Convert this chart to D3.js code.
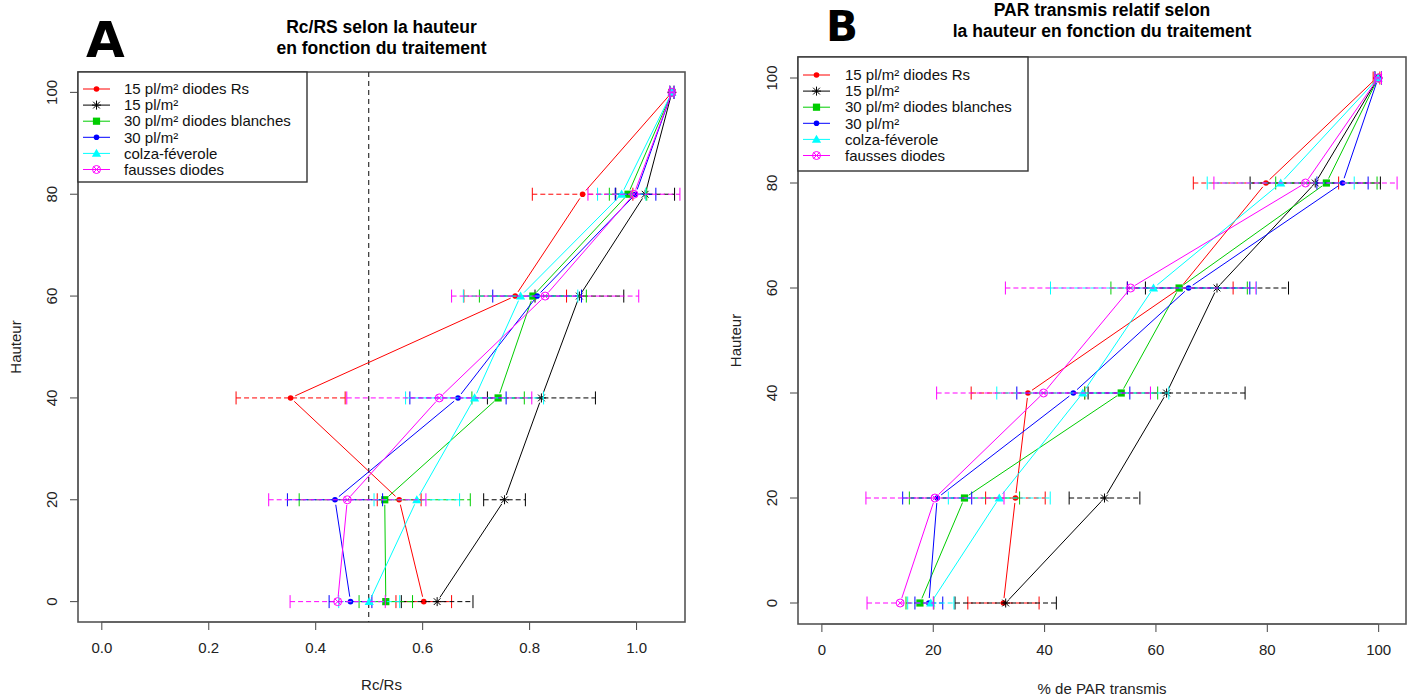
<!DOCTYPE html>
<html><head><meta charset="utf-8">
<script src="https://cdn.jsdelivr.net/npm/d3@7"></script>
<style>
body{margin:0;background:#fff;}
svg{display:block;font-family:"Liberation Sans",Arial,sans-serif;}
</style></head>
<body><svg id="c" width="1416" height="700"></svg>
<script>
// ---------- data ----------
const heights = [0, 20, 40, 60, 80, 100];
const seriesNames = ["15 pl/m² diodes Rs", "15 pl/m²", "30 pl/m² diodes blanches", "30 pl/m²", "colza-féverole", "fausses diodes"];
const seriesColors = ["#FF0000", "#000000", "#00CD00", "#0000FF", "#00FFFF", "#FF00FF"];
const seriesShapes = ["dot", "star", "square", "dot", "triangle", "circlex"];

// Panel A : Rc/Rs
const rcrsRed       = [0.603, 0.557, 0.354, 0.774, 0.900, 1.067];
const rcrsRedErr    = [0.052, 0.041, 0.102, 0.096, 0.094, 0.004];
const rcrsBlack     = [0.628, 0.754, 0.823, 0.894, 1.017, 1.067];
const rcrsBlackErr  = [0.067, 0.039, 0.101, 0.083, 0.055, 0.004];
const rcrsGreen     = [0.532, 0.530, 0.742, 0.807, 0.985, 1.067];
const rcrsGreenErr  = [0.050, 0.160, 0.049, 0.100, 0.035, 0.004];
const rcrsBlue      = [0.466, 0.437, 0.667, 0.815, 0.999, 1.067];
const rcrsBlueErr   = [0.040, 0.089, 0.090, 0.083, 0.038, 0.004];
const rcrsCyan      = [0.501, 0.590, 0.698, 0.784, 0.973, 1.067];
const rcrsCyanErr   = [0.057, 0.080, 0.129, 0.107, 0.045, 0.004];
const rcrsMagenta   = [0.442, 0.460, 0.632, 0.830, 0.996, 1.067];
const rcrsMagentaErr= [0.089, 0.147, 0.173, 0.175, 0.086, 0.004];

// Panel B : % PAR transmis
const parRed        = [32.7, 34.85, 37.1, 64.45, 79.85, 99.7];
const parRedErr     = [6.4, 5.35, 10.2, 9.5, 13.05, 0.6];
const parBlack      = [33.1, 50.85, 62.0, 71.05, 88.7, 100];
const parBlackErr   = [9.1, 6.35, 14.1, 12.85, 11.7, 0.6];
const parGreen      = [17.7, 25.7, 53.85, 64.25, 90.7, 100];
const parGreenErr   = [2.5, 9.9, 6.55, 12.25, 9.1, 0.6];
const parBlue       = [19.3, 20.8, 45.25, 65.95, 93.6, 100];
const parBlueErr    = [2.5, 6.2, 10.15, 11.0, 4.6, 0.6];
const parCyan       = [19.65, 31.95, 46.95, 59.65, 82.5, 100];
const parCyanErr    = [4.15, 9.15, 15.45, 18.5, 13.2, 0.6];
const parMagenta    = [14.15, 20.4, 39.9, 55.55, 86.95, 100];
const parMagentaErr = [5.95, 12.4, 19.2, 22.5, 16.45, 0.6];

const xTicksA = [0, 0.2, 0.4, 0.6, 0.8, 1.0];
const xTicksB = [0, 20, 40, 60, 80, 100];
const yTicks = [0, 20, 40, 60, 80, 100];

const svg = d3.select("#c");

function marker(g, shape, x, y, color) {
  if (shape === "dot") {
    g.append("circle").attr("cx", x).attr("cy", y).attr("r", 2.8).attr("fill", color);
  } else if (shape === "square") {
    g.append("rect").attr("x", x - 3.6).attr("y", y - 3.6).attr("width", 7.2).attr("height", 7.2).attr("fill", color);
  } else if (shape === "triangle") {
    const s = 4.6;
    g.append("path").attr("d", `M${x},${y - s}L${x + s},${y + s * 0.75}L${x - s},${y + s * 0.75}Z`).attr("fill", color);
  } else if (shape === "star") {
    const s = 4.5;
    g.append("path").attr("d", `M${x - s},${y}H${x + s}M${x},${y - s}V${y + s}M${x - s * 0.75},${y - s * 0.75}L${x + s * 0.75},${y + s * 0.75}M${x - s * 0.75},${y + s * 0.75}L${x + s * 0.75},${y - s * 0.75}`)
      .attr("stroke", color).attr("stroke-width", 1).attr("fill", "none");
  } else if (shape === "circlex") {
    const r = 4;
    g.append("circle").attr("cx", x).attr("cy", y).attr("r", r).attr("fill", "none").attr("stroke", color).attr("stroke-width", 1);
    const d = r * 0.72;
    g.append("path").attr("d", `M${x - d},${y - d}L${x + d},${y + d}M${x - d},${y + d}L${x + d},${y - d}`).attr("stroke", color).attr("stroke-width", 1);
  }
}

function panel(cfg) {
  const x = d3.scaleLinear().domain(cfg.xDomain).range([cfg.left, cfg.right]);
  const y = d3.scaleLinear().domain([-4, 104]).range([cfg.bottom, cfg.top]);
  const g = svg.append("g");

  // x axis
  const xa = g.append("g").attr("transform", `translate(0,${cfg.bottom})`)
    .call(d3.axisBottom(x).tickValues(cfg.xTicks).tickSize(8).tickPadding(12).tickFormat(cfg.xFmt));
  xa.select(".domain").attr("d", `M${x(cfg.xTicks[0])},0H${x(cfg.xTicks[cfg.xTicks.length - 1])}`).attr("stroke", "#444");
  xa.selectAll("line").attr("stroke", "#444");
  xa.selectAll("text").attr("font-size", 15).attr("fill", "#222").attr("font-family", "Liberation Sans, Arial, sans-serif");

  // y axis
  const ya = g.append("g").attr("transform", `translate(${cfg.left},0)`)
    .call(d3.axisLeft(y).tickValues(yTicks).tickSize(8).tickFormat(d3.format("d")));
  ya.select(".domain").attr("d", `M0,${y(0)}V${y(100)}`).attr("stroke", "#444");
  ya.selectAll("line").attr("stroke", "#444");
  ya.selectAll("text").attr("font-size", 15).attr("fill", "#222").attr("font-family", "Liberation Sans, Arial, sans-serif")
    .attr("text-anchor", "middle").attr("x", 0).attr("dy", 0)
    .attr("transform", d => `translate(-21,${y(d)}) rotate(-90)`).attr("y", 0);
  ya.selectAll(".tick").attr("transform", null);
  ya.selectAll(".tick line").attr("x2", -8).attr("y1", d => y(d)).attr("y2", d => y(d));

  // box
  g.append("rect").attr("x", cfg.left).attr("y", cfg.top).attr("width", cfg.right - cfg.left).attr("height", cfg.bottom - cfg.top)
    .attr("fill", "none").attr("stroke", "#555").attr("stroke-width", 1.6);

  if (cfg.vline !== undefined) {
    g.append("line").attr("x1", x(cfg.vline)).attr("x2", x(cfg.vline)).attr("y1", cfg.top).attr("y2", cfg.bottom)
      .attr("stroke", "#333").attr("stroke-width", 1.2).attr("stroke-dasharray", "5,4");
  }

  // series
  cfg.series.forEach((s, i) => {
    const col = seriesColors[i];
    const pts = heights.map((h, k) => [x(s.m[k]), y(h)]);
    // lines with gaps (type "b")
    const gap = 5;
    for (let k = 0; k < pts.length - 1; k++) {
      const [x1, y1] = pts[k], [x2, y2] = pts[k + 1];
      const L = Math.hypot(x2 - x1, y2 - y1);
      if (L <= 2 * gap) continue;
      const ux = (x2 - x1) / L, uy = (y2 - y1) / L;
      g.append("line").attr("x1", x1 + ux * gap).attr("y1", y1 + uy * gap).attr("x2", x2 - ux * gap).attr("y2", y2 - uy * gap)
        .attr("stroke", col).attr("stroke-width", 1);
    }
    // error bars
    heights.forEach((h, k) => {
      const xl = x(s.m[k] - s.e[k]), xr = x(s.m[k] + s.e[k]), yy = y(h);
      g.append("line").attr("x1", xl).attr("x2", xr).attr("y1", yy).attr("y2", yy)
        .attr("stroke", col).attr("stroke-width", 1).attr("stroke-dasharray", "5,3");
      [xl, xr].forEach(xx => g.append("line").attr("x1", xx).attr("x2", xx).attr("y1", yy - 6.5).attr("y2", yy + 6.5)
        .attr("stroke", col).attr("stroke-width", 1));
    });
    pts.forEach(p => marker(g, seriesShapes[i], p[0], p[1], col));
  });

  // legend
  const lg = g.append("g");
  lg.append("rect").attr("x", cfg.left).attr("y", cfg.top).attr("width", cfg.legW).attr("height", cfg.legH)
    .attr("fill", "#fff").attr("stroke", "#333").attr("stroke-width", 1.4);
  seriesNames.forEach((n, i) => {
    const yy = cfg.top + cfg.legY0 + i * 16.1;
    lg.append("line").attr("x1", cfg.left + 5).attr("x2", cfg.left + 32).attr("y1", yy).attr("y2", yy)
      .attr("stroke", seriesColors[i]).attr("stroke-width", 1);
    marker(lg, seriesShapes[i], cfg.left + 18.5, yy, seriesColors[i]);
    lg.append("text").attr("x", cfg.left + cfg.legTx).attr("y", yy).attr("dy", "0.35em")
      .attr("font-size", 15).attr("fill", "#111").text(n);
  });

  // titles
  g.append("text").attr("x", (cfg.left + cfg.right) / 2).attr("y", cfg.t1y).attr("text-anchor", "middle")
    .attr("font-size", 17.5).attr("font-weight", "bold").text(cfg.title1);
  g.append("text").attr("x", (cfg.left + cfg.right) / 2).attr("y", cfg.t2y).attr("text-anchor", "middle")
    .attr("font-size", 17.5).attr("font-weight", "bold").text(cfg.title2);
  g.append("text").attr("x", cfg.letterX).attr("y", cfg.letterY).attr("font-size", cfg.letterSize)
    .attr("font-weight", "bold").attr("font-family", "DejaVu Sans, sans-serif").text(cfg.letter);
  g.append("text").attr("x", (cfg.left + cfg.right) / 2).attr("y", cfg.xlabY).attr("text-anchor", "middle")
    .attr("font-size", 15).attr("fill", "#222").text(cfg.xlab);
  g.append("text").attr("transform", `translate(${cfg.left - 62},${(cfg.top + cfg.bottom) / 2}) rotate(-90)`)
    .attr("text-anchor", "middle").attr("dy", "0.35em").attr("font-size", 15).attr("fill", "#222").text("Hauteur");
}

panel({
  left: 78, right: 685, top: 72, bottom: 622,
  xDomain: [-0.0436, 1.0915], xTicks: xTicksA, xFmt: d3.format(".1f"), vline: 0.5,
  series: [
    {m: rcrsRed, e: rcrsRedErr}, {m: rcrsBlack, e: rcrsBlackErr}, {m: rcrsGreen, e: rcrsGreenErr},
    {m: rcrsBlue, e: rcrsBlueErr}, {m: rcrsCyan, e: rcrsCyanErr}, {m: rcrsMagenta, e: rcrsMagentaErr}
  ],
  legW: 229, legH: 110, legY0: 17, legTx: 46,
  title1: "Rc/RS selon la hauteur", title2: "en fonction du traitement", t1y: 33, t2y: 54,
  letter: "A", letterX: 86, letterY: 57, letterSize: 50,
  xlab: "Rc/Rs", xlabY: 690
});

panel({
  left: 798, right: 1406, top: 57, bottom: 624,
  xDomain: [-4.2, 105], xTicks: xTicksB, xFmt: d3.format("d"),
  series: [
    {m: parRed, e: parRedErr}, {m: parBlack, e: parBlackErr}, {m: parGreen, e: parGreenErr},
    {m: parBlue, e: parBlueErr}, {m: parCyan, e: parCyanErr}, {m: parMagenta, e: parMagentaErr}
  ],
  legW: 230, legH: 114, legY0: 18, legTx: 47,
  title1: "PAR transmis relatif selon", title2: "la hauteur en fonction du traitement", t1y: 16, t2y: 37,
  letter: "B", letterX: 826, letterY: 41, letterSize: 42,
  xlab: "% de PAR transmis", xlabY: 694
});
</script></body></html>
